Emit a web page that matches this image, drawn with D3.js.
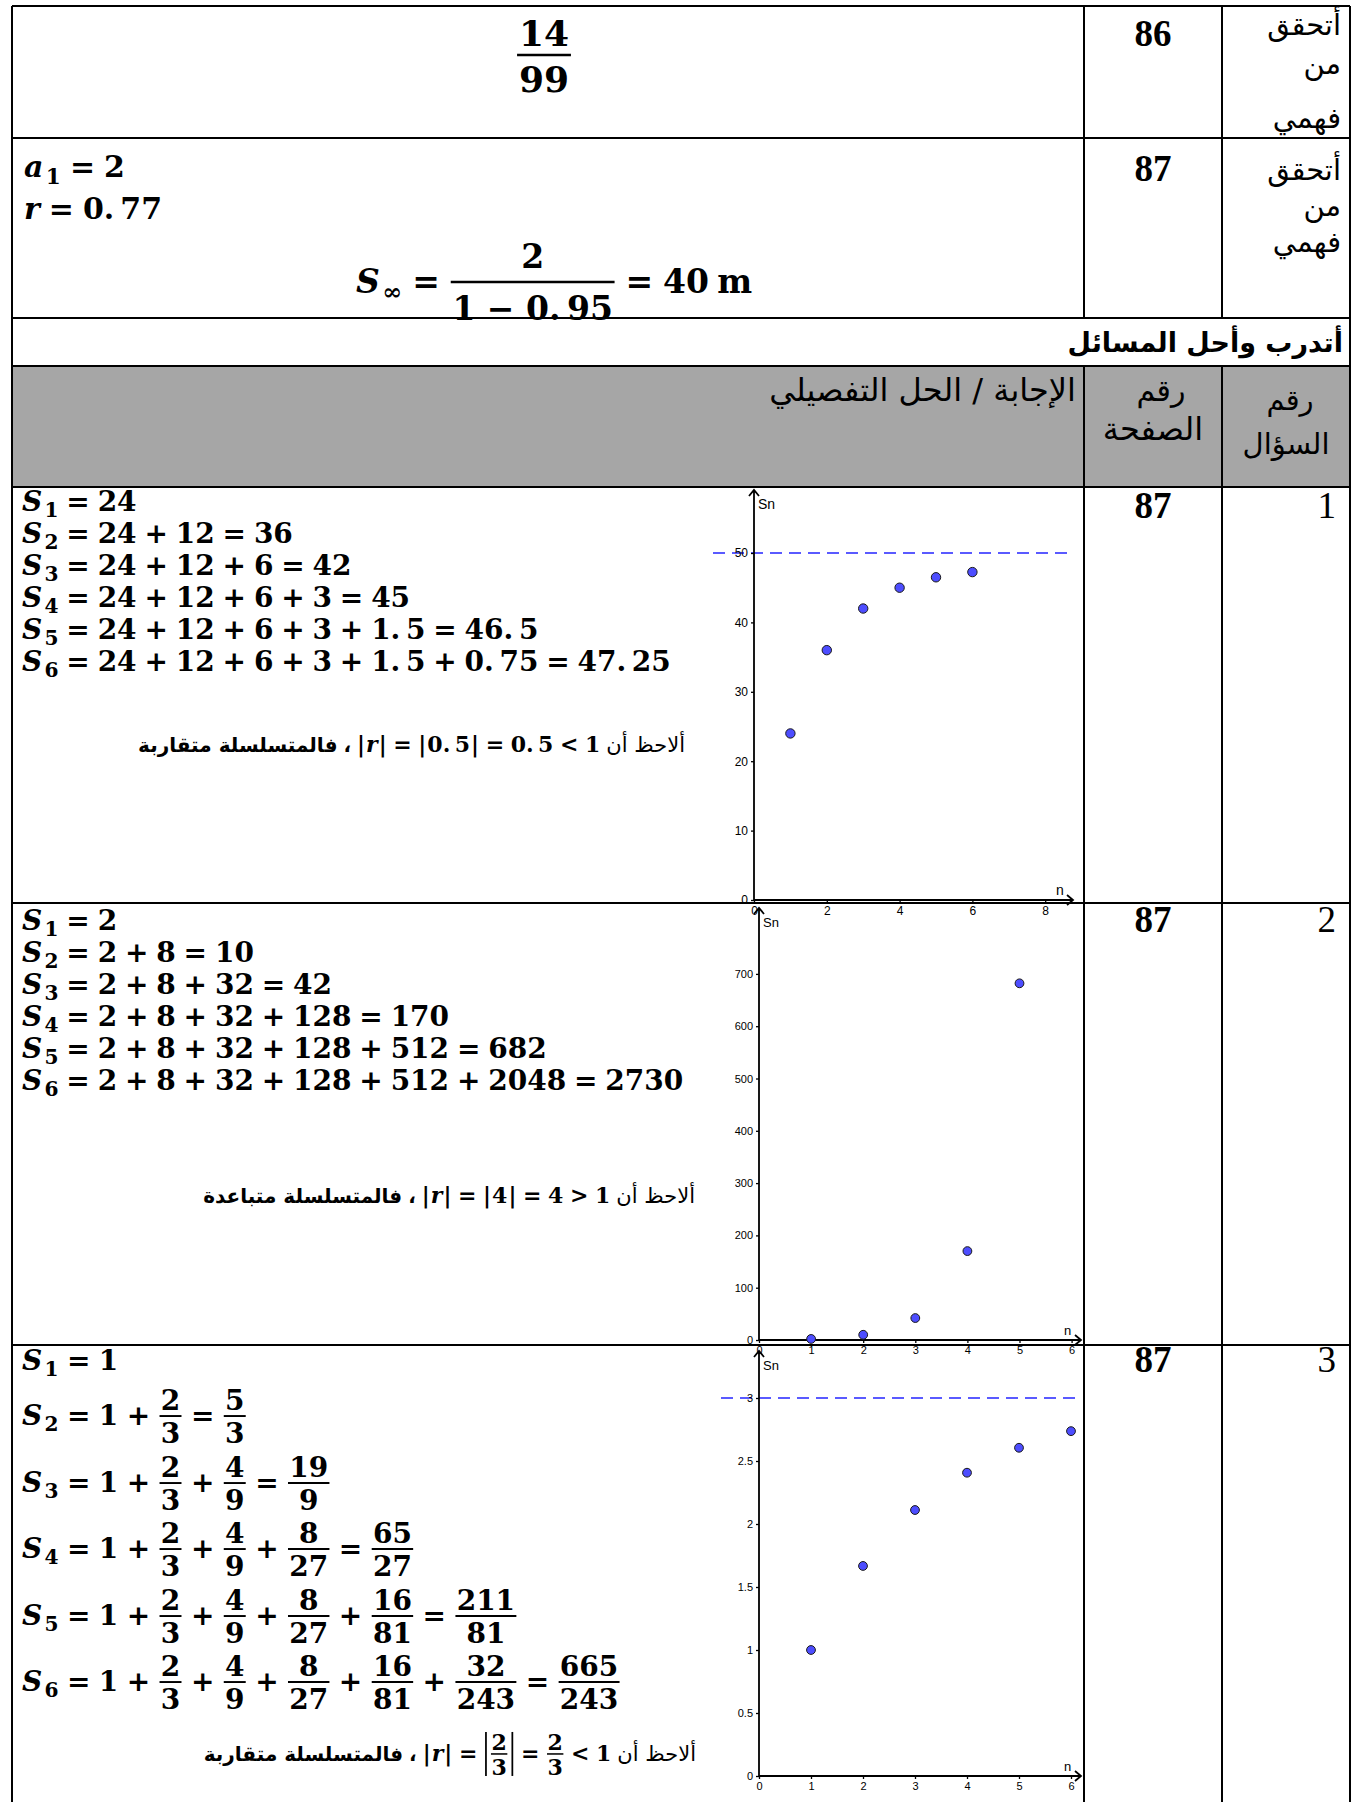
<!DOCTYPE html>
<html>
<head>
<meta charset="utf-8">
<script src="https://cdn.jsdelivr.net/npm/d3@7"></script>
<style>
  body { margin: 0; background: #fff; }
  svg { display: block; }
</style>
</head>
<body>
<script>
'use strict';

// ---- chart values ----
const chart1N = [1, 2, 3, 4, 5, 6];
const chart1S = [24, 36, 42, 45, 46.5, 47.25];
const chart1Limit = 50;
const chart1XTicks = [0, 2, 4, 6, 8];
const chart1YTicks = [0, 10, 20, 30, 40, 50];

const chart2N = [1, 2, 3, 4, 5];
const chart2S = [2, 10, 42, 170, 682];
const chart2XTicks = [0, 1, 2, 3, 4, 5, 6];
const chart2YTicks = [0, 100, 200, 300, 400, 500, 600, 700];

const chart3N = [1, 2, 3, 4, 5, 6];
const chart3S = [1, 1.667, 2.111, 2.407, 2.605, 2.737];
const chart3Limit = 3;
const chart3XTicks = [0, 1, 2, 3, 4, 5, 6];
const chart3YTicks = [0, 0.5, 1, 1.5, 2, 2.5, 3];

// ---- texts ----
const rightLabel = ["أتحقق", "من", "فهمي"];
const pageNums = ["86", "87", "87", "87", "87"];
const questionNums = ["1", "2", "3"];
const sectionTitle = "أتدرب وأحل المسائل";
const headAnswer = "الإجابة / الحل التفصيلي";
const headPage = ["رقم", "الصفحة"];
const headQuestion = ["رقم", "السؤال"];

const row1Math = "{14/99}";
const row2Math = ["a_1 = 2", "r = 0.77"];
const row2Sum = "S_∞ = {2/1~−~0.95} = 40 m";

const q1Lines = [
  "S_1 = 24",
  "S_2 = 24 + 12 = 36",
  "S_3 = 24 + 12 + 6 = 42",
  "S_4 = 24 + 12 + 6 + 3 = 45",
  "S_5 = 24 + 12 + 6 + 3 + 1.5 = 46.5",
  "S_6 = 24 + 12 + 6 + 3 + 1.5 + 0.75 = 47.25"
];
const q2Lines = [
  "S_1 = 2",
  "S_2 = 2 + 8 = 10",
  "S_3 = 2 + 8 + 32 = 42",
  "S_4 = 2 + 8 + 32 + 128 = 170",
  "S_5 = 2 + 8 + 32 + 128 + 512 = 682",
  "S_6 = 2 + 8 + 32 + 128 + 512 + 2048 = 2730"
];
const q3Lines = [
  "S_1 = 1",
  "S_2 = 1 + {2/3} = {5/3}",
  "S_3 = 1 + {2/3} + {4/9} = {19/9}",
  "S_4 = 1 + {2/3} + {4/9} + {8/27} = {65/27}",
  "S_5 = 1 + {2/3} + {4/9} + {8/27} + {16/81} = {211/81}",
  "S_6 = 1 + {2/3} + {4/9} + {8/27} + {16/81} + {32/243} = {665/243}"
];
// notes, pieces listed from right to left
const q1Note = [{ar: "ألاحظ أن"}, {math: "|r| = |0.5| = 0.5 < 1"}, {ar: "،", bold: true}, {ar: "فالمتسلسلة متقاربة", bold: true}];
const q2Note = [{ar: "ألاحظ أن"}, {math: "|r| = |4| = 4 > 1"}, {ar: "،", bold: true}, {ar: "فالمتسلسلة متباعدة", bold: true}];
const q3Note = [{ar: "ألاحظ أن"}, {math: "|r| = |{2/3}| = {2/3} < 1"}, {ar: "،", bold: true}, {ar: "فالمتسلسلة متقاربة", bold: true}];

const MATH_FONT = "'DejaVu Serif', serif";
const AR_FONT = "'DejaVu Sans', 'Noto Sans', sans-serif";
const NUM_FONT = "'Liberation Serif', 'Times New Roman', serif";
const AXIS_FONT = "'Liberation Sans', Arial, sans-serif";

const svg = d3.select("body").append("svg")
    .attr("width", 1352)
    .attr("height", 1802);

// ---------- small math typesetter ----------
function tw(sel) { return sel.node().getComputedTextLength(); }

function mathText(g, x, y, s, size, italic) {
    return g.append("text")
        .attr("x", x).attr("y", y)
        .attr("font-family", MATH_FONT)
        .attr("font-weight", "bold")
        .attr("font-style", italic ? "italic" : "normal")
        .attr("font-size", size)
        .text(s);
}

const OPS = ["=", "+", "−", "<", ">"];

// Cambria Math leaves a gap after the decimal point
function numStr(s) { return s.replace(/~/g, " ").replace(/\.(\d)/g, ".\u2009$1"); }

function drawToken(g, x, base, tok, size, opt) {
    let m;
    if (OPS.includes(tok)) {
        const gap = size * opt.gap;
        const t = mathText(g, x + gap, base, tok, size, false);
        return tw(t) + 2 * gap;
    }
    if ((m = tok.match(/^\|(.+)\|$/))) {
        const inner = m[1];
        if (/^\{.+\/.+\}$/.test(inner)) {
            const axis = base - size * 0.32;
            const w = drawToken(g, x + 6, base, inner, size, opt);
            [x + 2, x + w + 10].forEach(bx => {
                g.append("line")
                    .attr("x1", bx).attr("x2", bx)
                    .attr("y1", axis - size * 1.0).attr("y2", axis + size * 1.0)
                    .attr("stroke", "#000").attr("stroke-width", size * 0.08);
            });
            return w + 12;
        }
        const b1 = mathText(g, x, base, "|", size, false);
        let w = tw(b1) + 1;
        w += drawToken(g, x + w, base, inner, size, opt) + 1;
        const b2 = mathText(g, x + w, base, "|", size, false);
        return w + tw(b2);
    }
    if ((m = tok.match(/^\{(.+)\/(.+)\}$/))) {
        const axis = base - size * 0.32;
        const num = mathText(g, 0, axis - size * opt.num, numStr(m[1]), size, false)
            .attr("text-anchor", "middle");
        const den = mathText(g, 0, axis + size * opt.den, numStr(m[2]), size, false)
            .attr("text-anchor", "middle");
        const w = Math.max(tw(num), tw(den)) + size * opt.pad;
        num.attr("x", x + w / 2);
        den.attr("x", x + w / 2);
        g.append("line")
            .attr("x1", x + 1).attr("x2", x + w - 1)
            .attr("y1", axis).attr("y2", axis)
            .attr("stroke", "#000").attr("stroke-width", size * 0.07);
        return w;
    }
    if ((m = tok.match(/^([A-Za-z])_(.+)$/))) {
        const v = mathText(g, x, base, m[1], size, true);
        const w1 = tw(v) + size * 0.08;
        const s = mathText(g, x + w1, base + size * 0.22, m[2], size * 0.72, false);
        return w1 + tw(s);
    }
    const italic = /^[a-z]$/i.test(tok) && tok !== "m";
    const t = mathText(g, x, base, italic ? tok : numStr(tok), size, italic);
    return tw(t);
}

function drawMath(g, x, base, str, size, opt) {
    opt = Object.assign({num: 0.22, den: 0.96, gap: 0.28, pad: 0.16}, opt || {});
    let cx = x, prevOp = true;
    str.split(" ").forEach(tok => {
        const isOp = OPS.includes(tok);
        if (!isOp && !prevOp) cx += size * 0.25;
        cx += drawToken(g, cx, base, tok, size, opt);
        prevOp = isOp;
    });
    return cx - x;
}

function arText(g, x, y, s, size, bold, anchor) {
    return g.append("text")
        .attr("x", x).attr("y", y)
        .attr("font-family", AR_FONT)
        .attr("font-weight", bold ? "bold" : "normal")
        .attr("font-size", size)
        .attr("text-anchor", anchor || "end")
        .text(s);
}

// note sentence laid out from right to left
function drawNote(pieces, xRight, base) {
    let cx = xRight;
    pieces.forEach(p => {
        if (p.ar) {
            const t = arText(svg, cx, base, p.ar, p.bold ? 20 : 21, p.bold, "end");
            cx -= tw(t) + 6;
        } else {
            const g = svg.append("g");
            const w = drawMath(g, 0, base, p.math, 22, {num: 0.2, den: 0.95, gap: 0.3, pad: 0.14});
            g.attr("transform", `translate(${cx - w},0)`);
            cx -= w + 6;
        }
    });
}

// ---------- table ----------
const L = 12, R = 1350, C1 = 1084, C2 = 1222;
const rowY = [6, 138, 318, 366, 487, 903, 1345];
const BOTTOM = 1802;

svg.append("rect")
    .attr("x", L).attr("y", rowY[3])
    .attr("width", R - L).attr("height", rowY[4] - rowY[3])
    .attr("fill", "#a6a6a6");

const grid = svg.append("g").attr("stroke", "#000").attr("stroke-width", 2);
rowY.forEach(y => grid.append("line").attr("x1", L).attr("x2", R).attr("y1", y).attr("y2", y));
[L, R].forEach(x => grid.append("line").attr("x1", x).attr("x2", x).attr("y1", rowY[0]).attr("y2", BOTTOM));
[C1, C2].forEach(x => {
    grid.append("line").attr("x1", x).attr("x2", x).attr("y1", rowY[0]).attr("y2", rowY[2]);
    grid.append("line").attr("x1", x).attr("x2", x).attr("y1", rowY[3]).attr("y2", BOTTOM);
});

// right column labels (rows 1 and 2)
[[35, 74, 128], [180, 216, 252]].forEach(ys => {
    ys.forEach((y, i) => arText(svg, 1341, y, rightLabel[i], 29, false, "end"));
});

// page numbers
const pageBase = [46, 181, 518, 932, 1372];
pageNums.forEach((p, i) => {
    svg.append("text")
        .attr("x", 1153).attr("y", pageBase[i])
        .attr("font-family", NUM_FONT).attr("font-weight", "bold")
        .attr("font-size", 37).attr("text-anchor", "middle")
        .text(p);
});
// question numbers
questionNums.forEach((q, i) => {
    svg.append("text")
        .attr("x", 1336).attr("y", pageBase[i + 2])
        .attr("font-family", NUM_FONT)
        .attr("font-size", 37).attr("text-anchor", "end")
        .text(q);
});

// section title + header row
arText(svg, 1343, 352, sectionTitle, 27, true, "end");
arText(svg, 1076, 401, headAnswer, 32, false, "end");
arText(svg, 1161, 401, headPage[0], 30, false, "middle");
arText(svg, 1153, 440, headPage[1], 32, false, "middle");
arText(svg, 1290, 410, headQuestion[0], 29, false, "middle");
arText(svg, 1286, 454, headQuestion[1], 29, false, "middle");

// row 1 : 14/99 centred
{
    const g = svg.append("g");
    const w = drawMath(g, 0, 55 + 36 * 0.32, row1Math, 36, {num: 0.25, den: 1.02});
    g.attr("transform", `translate(${544 - w / 2},0)`);
}
// row 2
drawMath(svg.append("g"), 24, 177, row2Math[0], 30, {gap: 0.3});
drawMath(svg.append("g"), 24, 219, row2Math[1], 30, {gap: 0.3});
drawMath(svg.append("g"), 356, 282 + 33 * 0.32, row2Sum, 33, {num: 0.42, den: 1.15, gap: 0.3});

// question lines
const MS = 28;
q1Lines.forEach((s, i) => drawMath(svg.append("g"), 22, 511 + 32 * i, s, MS));
q2Lines.forEach((s, i) => drawMath(svg.append("g"), 22, 930 + 32 * i, s, MS));
const q3Base = [1370, 1425, 1492, 1558, 1625, 1691];
q3Lines.forEach((s, i) => drawMath(svg.append("g"), 22, q3Base[i], s, MS, {gap: 0.3}));

drawNote(q1Note, 685, 752);
drawNote(q2Note, 695, 1203);
drawNote(q3Note, 696, 1761);

// ---------- charts ----------
function drawChart(cfg) {
    const g = svg.append("g");
    const x = d3.scaleLinear()
        .domain([0, (cfg.xTip - cfg.ox) / cfg.ux])
        .range([cfg.ox, cfg.xTip]);
    const y = d3.scaleLinear()
        .domain([0, (cfg.oy - cfg.yTip) / cfg.uy])
        .range([cfg.oy, cfg.yTip]);

    if (cfg.limit !== undefined) {
        g.append("line")
            .attr("x1", cfg.dash[0]).attr("x2", cfg.dash[1])
            .attr("y1", y(cfg.limit)).attr("y2", y(cfg.limit))
            .attr("stroke", "#5a5aff").attr("stroke-width", 2)
            .attr("stroke-dasharray", "12,7");
    }

    const xAxis = d3.axisBottom(x).tickValues(cfg.xTicks)
        .tickSize(3).tickPadding(3).tickFormat(d3.format("~g"));
    const yAxis = d3.axisLeft(y).tickValues(cfg.yTicks)
        .tickSize(3).tickPadding(3).tickFormat(d3.format("~g"));

    [[xAxis, `translate(0,${cfg.oy})`], [yAxis, `translate(${cfg.ox},0)`]].forEach(([ax, tr]) => {
        const a = g.append("g").attr("transform", tr).call(ax);
        a.select(".domain").remove();
        a.attr("font-family", AXIS_FONT).attr("font-size", cfg.tickFont);
        a.selectAll("line").attr("stroke", "#000").attr("stroke-width", 1.3);
        a.selectAll("text").attr("fill", "#000");
    });

    g.append("path")
        .attr("d", `M${cfg.ox},${cfg.oy}H${cfg.xTip}M${cfg.ox},${cfg.oy}V${cfg.yTip}` +
            `M${cfg.xTip - 6},${cfg.oy - 5}L${cfg.xTip},${cfg.oy}L${cfg.xTip - 6},${cfg.oy + 5}` +
            `M${cfg.ox - 5},${cfg.yTip + 6}L${cfg.ox},${cfg.yTip}L${cfg.ox + 5},${cfg.yTip + 6}`)
        .attr("fill", "none").attr("stroke", "#000").attr("stroke-width", 1.8);

    g.append("text")
        .attr("x", cfg.ox + 4).attr("y", cfg.yTip + 19)
        .attr("font-family", AXIS_FONT).attr("font-size", cfg.labelFont)
        .text("Sn");
    g.append("text")
        .attr("x", cfg.xTip - 17).attr("y", cfg.oy - 5)
        .attr("font-family", AXIS_FONT).attr("font-size", cfg.labelFont)
        .text("n");

    g.selectAll("circle.pt")
        .data(cfg.n.map((d, i) => ({n: d, s: cfg.s[i]})))
        .enter().append("circle")
        .attr("class", "pt")
        .attr("cx", d => x(d.n))
        .attr("cy", d => y(d.s))
        .attr("r", cfg.r)
        .attr("fill", "#4d4dff")
        .attr("stroke", "#1a1a1a")
        .attr("stroke-width", 1);
}

drawChart({
    n: chart1N, s: chart1S, limit: chart1Limit, xTicks: chart1XTicks, yTicks: chart1YTicks,
    ox: 754, oy: 900, ux: 36.4, uy: 6.94, xTip: 1073, yTip: 490, dash: [713, 1072],
    r: 4.7, tickFont: 12, labelFont: 14
});
drawChart({
    n: chart2N, s: chart2S, xTicks: chart2XTicks, yTicks: chart2YTicks,
    ox: 759, oy: 1340, ux: 52.1, uy: 0.523, xTip: 1081, yTip: 908,
    r: 4.4, tickFont: 11, labelFont: 13
});
drawChart({
    n: chart3N, s: chart3S, limit: chart3Limit, xTicks: chart3XTicks, yTicks: chart3YTicks,
    ox: 759, oy: 1776, ux: 52, uy: 126, xTip: 1081, yTip: 1351, dash: [721, 1077],
    r: 4.4, tickFont: 11, labelFont: 13
});
</script>
</body>
</html>
